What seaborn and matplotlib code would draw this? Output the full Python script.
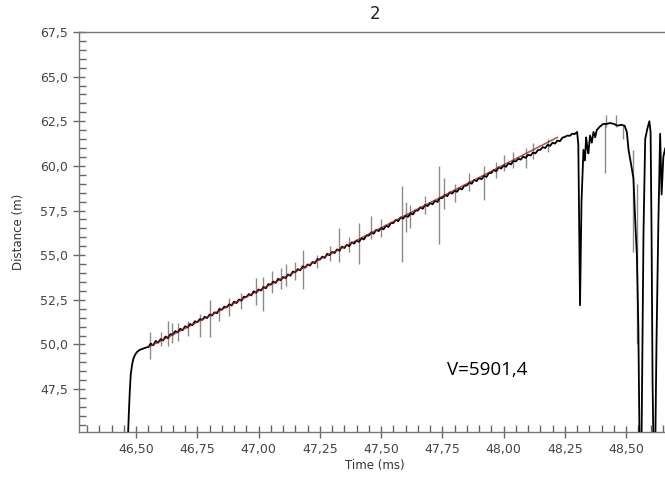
import numpy as np
import pandas as pd
import seaborn as sns
import matplotlib
matplotlib.use('Agg')
import matplotlib.pyplot as plt
from matplotlib.ticker import MultipleLocator, FuncFormatter

# rising edge before the linear part
rise_t = [46.466, 46.470, 46.474, 46.478, 46.484, 46.490, 46.497, 46.505, 46.515, 46.525, 46.535, 46.545]
rise_d = [44.5, 46.0, 47.3, 48.3, 48.9, 49.25, 49.45, 49.6, 49.7, 49.75, 49.8, 49.85]

# linear part, sampled every 0.01 ms from 46.55 to 48.30
lin_d = [
    49.85, 50.05, 49.95, 50.20, 50.10, 50.30, 50.22, 50.45, 50.35, 50.58,
    50.55, 50.75, 50.68, 50.88, 50.80, 51.02, 50.95, 51.15, 51.08, 51.30,
    51.25, 51.42, 51.38, 51.55, 51.48, 51.68, 51.62, 51.80, 51.75, 51.98,
    51.95, 52.12, 52.08, 52.25, 52.18, 52.40, 52.32, 52.52, 52.45, 52.68,
    52.65, 52.82, 52.75, 52.98, 52.90, 53.08, 53.02, 53.22, 53.15, 53.38,
    53.35, 53.52, 53.45, 53.68, 53.60, 53.78, 53.72, 53.92, 53.85, 54.08,
    54.05, 54.22, 54.15, 54.38, 54.30, 54.48, 54.42, 54.62, 54.55, 54.78,
    54.75, 54.92, 54.85, 55.08, 55.00, 55.18, 55.12, 55.32, 55.25, 55.48,
    55.40, 55.58, 55.50, 55.72, 55.65, 55.82, 55.75, 55.95, 55.88, 56.10,
    56.10, 56.28, 56.20, 56.42, 56.35, 56.52, 56.45, 56.65, 56.58, 56.80,
    56.80, 56.98, 56.90, 57.12, 57.05, 57.22, 57.15, 57.35, 57.28, 57.50,
    57.50, 57.68, 57.60, 57.82, 57.75, 57.92, 57.85, 58.05, 57.98, 58.20,
    58.20, 58.38, 58.30, 58.52, 58.45, 58.62, 58.55, 58.75, 58.68, 58.90,
    58.90, 59.08, 59.00, 59.22, 59.15, 59.32, 59.25, 59.45, 59.38, 59.60,
    59.60, 59.78, 59.70, 59.92, 59.85, 60.02, 59.95, 60.15, 60.08, 60.28,
    60.25, 60.40, 60.35, 60.52, 60.45, 60.62, 60.58, 60.75, 60.70, 60.88,
    60.90, 61.05, 61.00, 61.18, 61.12, 61.30, 61.25, 61.42, 61.38, 61.58,
    61.62, 61.70, 61.68, 61.80, 61.78, 61.90,
]
lin_t = list(np.round(46.55 + 0.01 * np.arange(len(lin_d)), 3))

# end of the record with the dips
end_t = [48.305, 48.312, 48.318, 48.326, 48.332, 48.337, 48.342, 48.346, 48.353, 48.360,
         48.367, 48.374, 48.38, 48.393, 48.407, 48.42, 48.435, 48.45, 48.465, 48.48,
         48.494, 48.503, 48.510, 48.519, 48.53, 48.537, 48.544, 48.550, 48.556, 48.562,
         48.567, 48.571, 48.578, 48.587, 48.595, 48.600, 48.604, 48.608, 48.613, 48.618,
         48.624, 48.632, 48.639, 48.645, 48.652, 48.660]
end_d = [61.2, 52.2, 58.0, 60.9, 60.3, 61.6, 61.0, 60.7, 61.7, 61.3,
         61.9, 61.6, 62.0, 62.2, 62.35, 62.35, 62.4, 62.35, 62.25, 62.3,
         62.25, 61.9, 60.9, 60.2, 59.3, 57.0, 55.0, 51.0, 43.0, 43.0,
         50.0, 56.2, 61.5, 62.1, 62.5, 61.9, 56.2, 48.0, 43.0, 43.0,
         50.0, 57.0, 61.8, 58.4, 60.5, 61.0]

# noise spikes: time, low, high
spike_t = [46.557, 46.60, 46.63, 46.645, 46.67, 46.71, 46.76, 46.80, 46.84, 46.88,
           46.93, 46.99, 47.02, 47.055, 47.09, 47.11, 47.15, 47.18, 47.24, 47.29,
           47.33, 47.37, 47.41, 47.46, 47.50, 47.585, 47.60, 47.62, 47.68, 47.735,
           47.755, 47.80, 47.86, 47.92, 47.97, 48.00, 48.04, 48.09, 48.12, 48.18,
           48.414, 48.42, 48.458, 48.489, 48.527, 48.544]
spike_lo = [49.2, 49.9, 49.9, 50.1, 50.2, 50.5, 50.4, 50.4, 51.3, 51.6,
            52.0, 52.2, 51.9, 52.9, 53.1, 53.3, 53.6, 53.1, 54.3, 54.7,
            54.6, 55.2, 54.5, 55.9, 56.0, 54.6, 56.3, 56.5, 57.3, 55.6,
            57.6, 58.0, 58.6, 58.1, 59.3, 59.7, 59.9, 59.9, 60.4, 60.8,
            59.6, 62.2, 62.2, 61.5, 55.2, 50.0]
spike_hi = [50.7, 50.7, 51.3, 51.2, 51.2, 51.3, 51.7, 52.5, 52.1, 52.6,
            52.9, 53.7, 53.8, 54.1, 54.3, 54.5, 54.6, 55.3, 55.0, 55.5,
            56.5, 56.0, 56.8, 57.2, 57.0, 58.9, 58.0, 57.8, 58.3, 60.0,
            59.3, 59.0, 59.6, 60.0, 60.2, 60.6, 60.8, 61.0, 61.3, 61.5,
            62.4, 62.85, 62.85, 62.3, 60.9, 59.0]

# linear fit
fit_t = [46.55, 48.22]
fit_d = [49.85, 61.6]

sns.set_style('white')
plt.rcParams['font.family'] = ['DejaVu Sans']

trace = pd.DataFrame({'t': rise_t + lin_t + end_t, 'd': rise_d + lin_d + end_d})
fit = pd.DataFrame({'t': fit_t, 'd': fit_d})

fig = plt.figure(figsize=(6.65, 4.78), dpi=100)
ax = fig.add_axes([0.1188, 0.0962, 0.889, 0.837])

ax.vlines(spike_t, spike_lo, spike_hi, color='#8a8a8a', lw=1.0, zorder=2)
sns.lineplot(data=trace, x='t', y='d', sort=False, estimator=None, color='black', lw=1.3, ax=ax, zorder=3)
sns.lineplot(data=fit, x='t', y='d', sort=False, estimator=None, color='#9b2020', lw=1.1, alpha=0.8, ax=ax, zorder=4)

ax.set_xlim(46.267, 48.68)
ax.set_ylim(45.1, 67.5)

ax.xaxis.set_major_locator(MultipleLocator(0.25))
ax.xaxis.set_minor_locator(MultipleLocator(0.05))
ax.yaxis.set_major_locator(MultipleLocator(2.5))
ax.yaxis.set_minor_locator(MultipleLocator(0.5))
ax.xaxis.set_major_formatter(FuncFormatter(lambda v, p: f'{v:.2f}'.replace('.', ',') if v > 46.4 else ''))
ax.yaxis.set_major_formatter(FuncFormatter(lambda v, p: f'{v:.1f}'.replace('.', ',') if v > 46 else ''))

ax.tick_params(which='major', direction='inout', length=9, width=1, color='#666666',
               labelsize=9, labelcolor='#444444', bottom=True, left=True)
ax.tick_params(which='minor', direction='in', length=5, width=1, color='#666666', bottom=True, left=True)
for s in ax.spines.values():
    s.set_color('#777777')
    s.set_linewidth(1.0)

ax.set_xlabel('Time (ms)', fontsize=8.5, color='#333333', labelpad=2)
ax.set_ylabel('Distance (m)', fontsize=8.5, color='#333333', labelpad=11)
ax.set_title('2', fontsize=12, color='#222222', pad=9)
ax.text(47.77, 48.6, 'V=5901,4', fontsize=13.5, family=['Open Sans', 'DejaVu Sans'],
        color='black', va='center', ha='left')

fig.savefig('out.png', dpi=100)
